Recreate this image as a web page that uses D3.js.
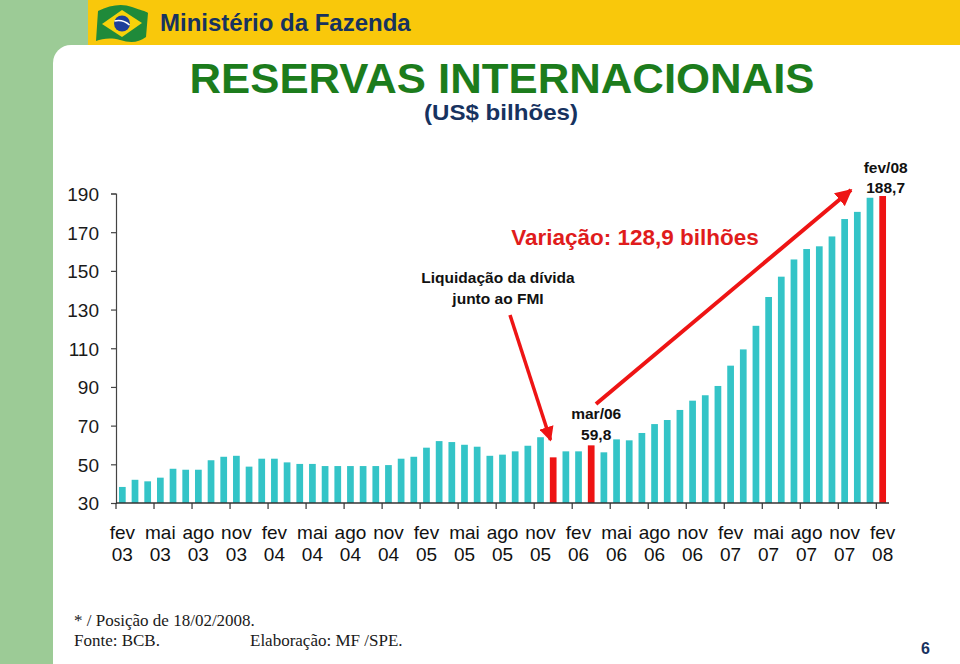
<!DOCTYPE html>
<html><head><meta charset="utf-8">
<script src="https://cdn.jsdelivr.net/npm/d3@7"></script>
<style>
html,body{margin:0;padding:0;background:#fff;}
svg{display:block;}
text{font-family:Arial,"Liberation Sans",Helvetica,sans-serif;}
text.serif{font-family:"Liberation Serif","DejaVu Serif",Times,serif;}
</style></head>
<body>
<svg id="c" width="960" height="664"></svg>
<script>
// ---------- DATA ----------
const months = [
 "fev/03","mar/03","abr/03","mai/03","jun/03","jul/03","ago/03","set/03","out/03","nov/03","dez/03",
 "jan/04","fev/04","mar/04","abr/04","mai/04","jun/04","jul/04","ago/04","set/04","out/04","nov/04","dez/04",
 "jan/05","fev/05","mar/05","abr/05","mai/05","jun/05","jul/05","ago/05","set/05","out/05","nov/05","dez/05",
 "jan/06","fev/06","mar/06","abr/06","mai/06","jun/06","jul/06","ago/06","set/06","out/06","nov/06","dez/06",
 "jan/07","fev/07","mar/07","abr/07","mai/07","jun/07","jul/07","ago/07","set/07","out/07","nov/07","dez/07",
 "jan/08","fev/08"];
const reserves = [
 38.3,42.0,41.2,43.1,47.7,47.2,47.2,52.1,53.9,54.4,48.8,
 52.9,52.9,51.0,50.2,50.2,49.1,49.1,49.1,49.1,49.1,49.6,52.9,
 53.9,58.6,62.0,61.5,60.1,59.1,54.4,55.0,56.7,59.6,64.0,53.6,
 56.7,56.7,59.8,56.2,62.9,62.4,66.2,70.8,72.9,78.1,82.9,85.7,
 90.5,101.0,109.4,121.6,136.5,147.0,155.9,161.3,162.7,167.8,176.8,180.5,
 187.8,188.7];
const highlighted = ["dez/05","mar/06","fev/08"];
const tickMonths = ["fev/03","mai/03","ago/03","nov/03","fev/04","mai/04","ago/04","nov/04",
 "fev/05","mai/05","ago/05","nov/05","fev/06","mai/06","ago/06","nov/06",
 "fev/07","mai/07","ago/07","nov/07","fev/08"];
const tickLabels = [["fev","03"],["mai","03"],["ago","03"],["nov","03"],["fev","04"],["mai","04"],["ago","04"],["nov","04"],
 ["fev","05"],["mai","05"],["ago","05"],["nov","05"],["fev","06"],["mai","06"],["ago","06"],["nov","06"],
 ["fev","07"],["mai","07"],["ago","07"],["nov","07"],["fev","08"]];
const yTicks = [30,50,70,90,110,130,150,170,190];

// ---------- COLOURS ----------
const TEAL = "#34c4c7", RED = "#ee1414", NAVY = "#17325f", GREEN_T = "#1c7c1c";

const svg = d3.select("#c");

// ---------- BACKGROUND ----------
svg.append("rect").attr("x",0).attr("y",0).attr("width",960).attr("height",664).attr("fill","#9ccb96");
svg.append("rect").attr("x",88).attr("y",0).attr("width",872).attr("height",45).attr("fill","#f9c80b");
svg.append("rect").attr("x",53).attr("y",45).attr("width",940).attr("height",660).attr("rx",18).attr("fill","#fff");

// flag logo
const flag = svg.append("g").attr("transform","translate(96,3)");
flag.append("path").attr("d","M2,8 C14,2 26,0 36,4 C44,7 50,8 52,10 L50,34 C42,40 34,40 24,37 C14,34 6,36 0,38 Z")
  .attr("fill","#1f8a3a");
flag.append("path").attr("d","M6,21 L26,7 L46,20 L26,34 Z").attr("fill","#f6d20a");
flag.append("circle").attr("cx",26).attr("cy",20.5).attr("r",8).attr("fill","#1d3f9a");
flag.append("path").attr("d","M18.5,18 C23,17 29,18 33.5,22").attr("stroke","#fff").attr("stroke-width",1.6).attr("fill","none");

svg.append("text").attr("x",160).attr("y",31).attr("font-size",24).attr("font-weight","bold")
  .attr("fill",NAVY).text("Ministério da Fazenda");

// ---------- TITLES ----------
svg.append("text").attr("x",502).attr("y",93).attr("text-anchor","middle").attr("font-size",43)
  .attr("font-weight","bold").attr("fill",GREEN_T).attr("textLength",625).attr("lengthAdjust","spacingAndGlyphs")
  .text("RESERVAS INTERNACIONAIS");
svg.append("text").attr("x",501).attr("y",120).attr("text-anchor","middle").attr("font-size",22)
  .attr("font-weight","bold").attr("fill",NAVY).attr("textLength",154).attr("lengthAdjust","spacingAndGlyphs")
  .text("(US$ bilhões)");

// ---------- SCALES ----------
const x = d3.scaleBand().domain(months).range([116,889]).paddingInner(0.47).paddingOuter(0.235);
const y = d3.scaleLinear().domain([30,190]).range([503,193.5]);
const step = x.step();
const slotLeft = d => x(d) - step*x.paddingOuter();

// bars
svg.append("g").selectAll("rect").data(months).join("rect")
  .attr("x",d=>x(d)).attr("width",x.bandwidth())
  .attr("y",(d,i)=>y(reserves[i])).attr("height",(d,i)=>y(30)-y(reserves[i]))
  .attr("fill",d=>highlighted.includes(d)?RED:TEAL);

// y axis
const yAxis = svg.append("g").attr("transform","translate(116,0)")
  .call(d3.axisLeft(y).tickValues(yTicks).tickSize(5).tickPadding(12).tickFormat(d3.format("d")));
yAxis.select(".domain").attr("stroke","#444").attr("stroke-width",1.2);
yAxis.selectAll(".tick line").attr("stroke","#444").attr("stroke-width",1.2);
yAxis.selectAll(".tick text").attr("font-size",19).attr("fill","#1a1a1a").attr("dy","0.36em");

// x axis line & ticks
const xg = svg.append("g");
xg.append("line").attr("x1",116).attr("x2",889).attr("y1",y(30)).attr("y2",y(30))
  .attr("stroke","#333").attr("stroke-width",1.5);
xg.selectAll("line.t").data(tickMonths).join("line").attr("class","t")
  .attr("x1",d=>slotLeft(d)).attr("x2",d=>slotLeft(d))
  .attr("y1",y(30)).attr("y2",y(30)+6).attr("stroke","#333").attr("stroke-width",1.2);
const xl = xg.selectAll("text.l").data(tickMonths).join("text").attr("class","l")
  .attr("text-anchor","middle").attr("font-size",19).attr("fill","#111");
xl.append("tspan").attr("x",d=>x(d)+x.bandwidth()/2).attr("y",539).text((d,i)=>tickLabels[i][0]);
xl.append("tspan").attr("x",d=>x(d)+x.bandwidth()/2).attr("y",561).text((d,i)=>tickLabels[i][1]);

// ---------- ANNOTATIONS ----------
const defs = svg.append("defs");
defs.append("marker").attr("id","ah").attr("viewBox","0 0 10 10").attr("refX",9).attr("refY",5)
  .attr("markerWidth",4.2).attr("markerHeight",4.2).attr("orient","auto")
  .append("path").attr("d","M0,0 L10,5 L0,10 Z").attr("fill",RED);

const xm = d => x(d) + x.bandwidth()/2;
// FMI arrow
svg.append("line").attr("x1",510).attr("y1",315).attr("x2",550.5).attr("y2",440)
  .attr("stroke",RED).attr("stroke-width",3.5).attr("marker-end","url(#ah)");
svg.append("text").attr("x",498).attr("y",283).attr("text-anchor","middle").attr("font-size",15.5)
  .attr("font-weight","bold").attr("fill","#111").text("Liquidação da dívida");
svg.append("text").attr("x",498).attr("y",304).attr("text-anchor","middle").attr("font-size",15.5)
  .attr("font-weight","bold").attr("fill","#111").text("junto ao FMI");

// variation arrow
svg.append("line").attr("x1",596).attr("y1",404).attr("x2",851).attr("y2",190)
  .attr("stroke",RED).attr("stroke-width",4).attr("marker-end","url(#ah)");
svg.append("text").attr("x",635).attr("y",245).attr("text-anchor","middle").attr("font-size",22.5)
  .attr("font-weight","bold").attr("fill","#e01c1c").text("Variação: 128,9 bilhões");

// mar/06 label
const iMar = months.indexOf("mar/06");
svg.append("text").attr("x",xm("mar/06")+5).attr("y",419).attr("text-anchor","middle").attr("font-size",15.5)
  .attr("font-weight","bold").attr("fill","#111").text("mar/06");
svg.append("text").attr("x",xm("mar/06")+5).attr("y",440).attr("text-anchor","middle").attr("font-size",15.5)
  .attr("font-weight","bold").attr("fill","#111").text(d3.format(".1f")(reserves[iMar]).replace(".",","));

// fev/08 label
const iFev = months.indexOf("fev/08");
svg.append("text").attr("x",xm("fev/08")+3).attr("y",173).attr("text-anchor","middle").attr("font-size",15.5)
  .attr("font-weight","bold").attr("fill","#111").text("fev/08");
svg.append("text").attr("x",xm("fev/08")+3).attr("y",193).attr("text-anchor","middle").attr("font-size",15.5)
  .attr("font-weight","bold").attr("fill","#111").text(d3.format(".1f")(reserves[iFev]).replace(".",","));

// ---------- FOOTER ----------
svg.append("text").attr("class","serif").attr("x",74).attr("y",626).attr("font-size",17).attr("fill","#1a1a1a")
  .text("* / Posição de 18/02/2008.");
svg.append("text").attr("class","serif").attr("x",74).attr("y",646).attr("font-size",17).attr("fill","#1a1a1a")
  .text("Fonte: BCB.");
svg.append("text").attr("class","serif").attr("x",250).attr("y",646).attr("font-size",17).attr("fill","#1a1a1a")
  .text("Elaboração: MF /SPE.");
svg.append("text").attr("x",921).attr("y",654).attr("font-size",16).attr("font-weight","bold").attr("fill",NAVY)
  .text("6");
</script>
</body></html>
